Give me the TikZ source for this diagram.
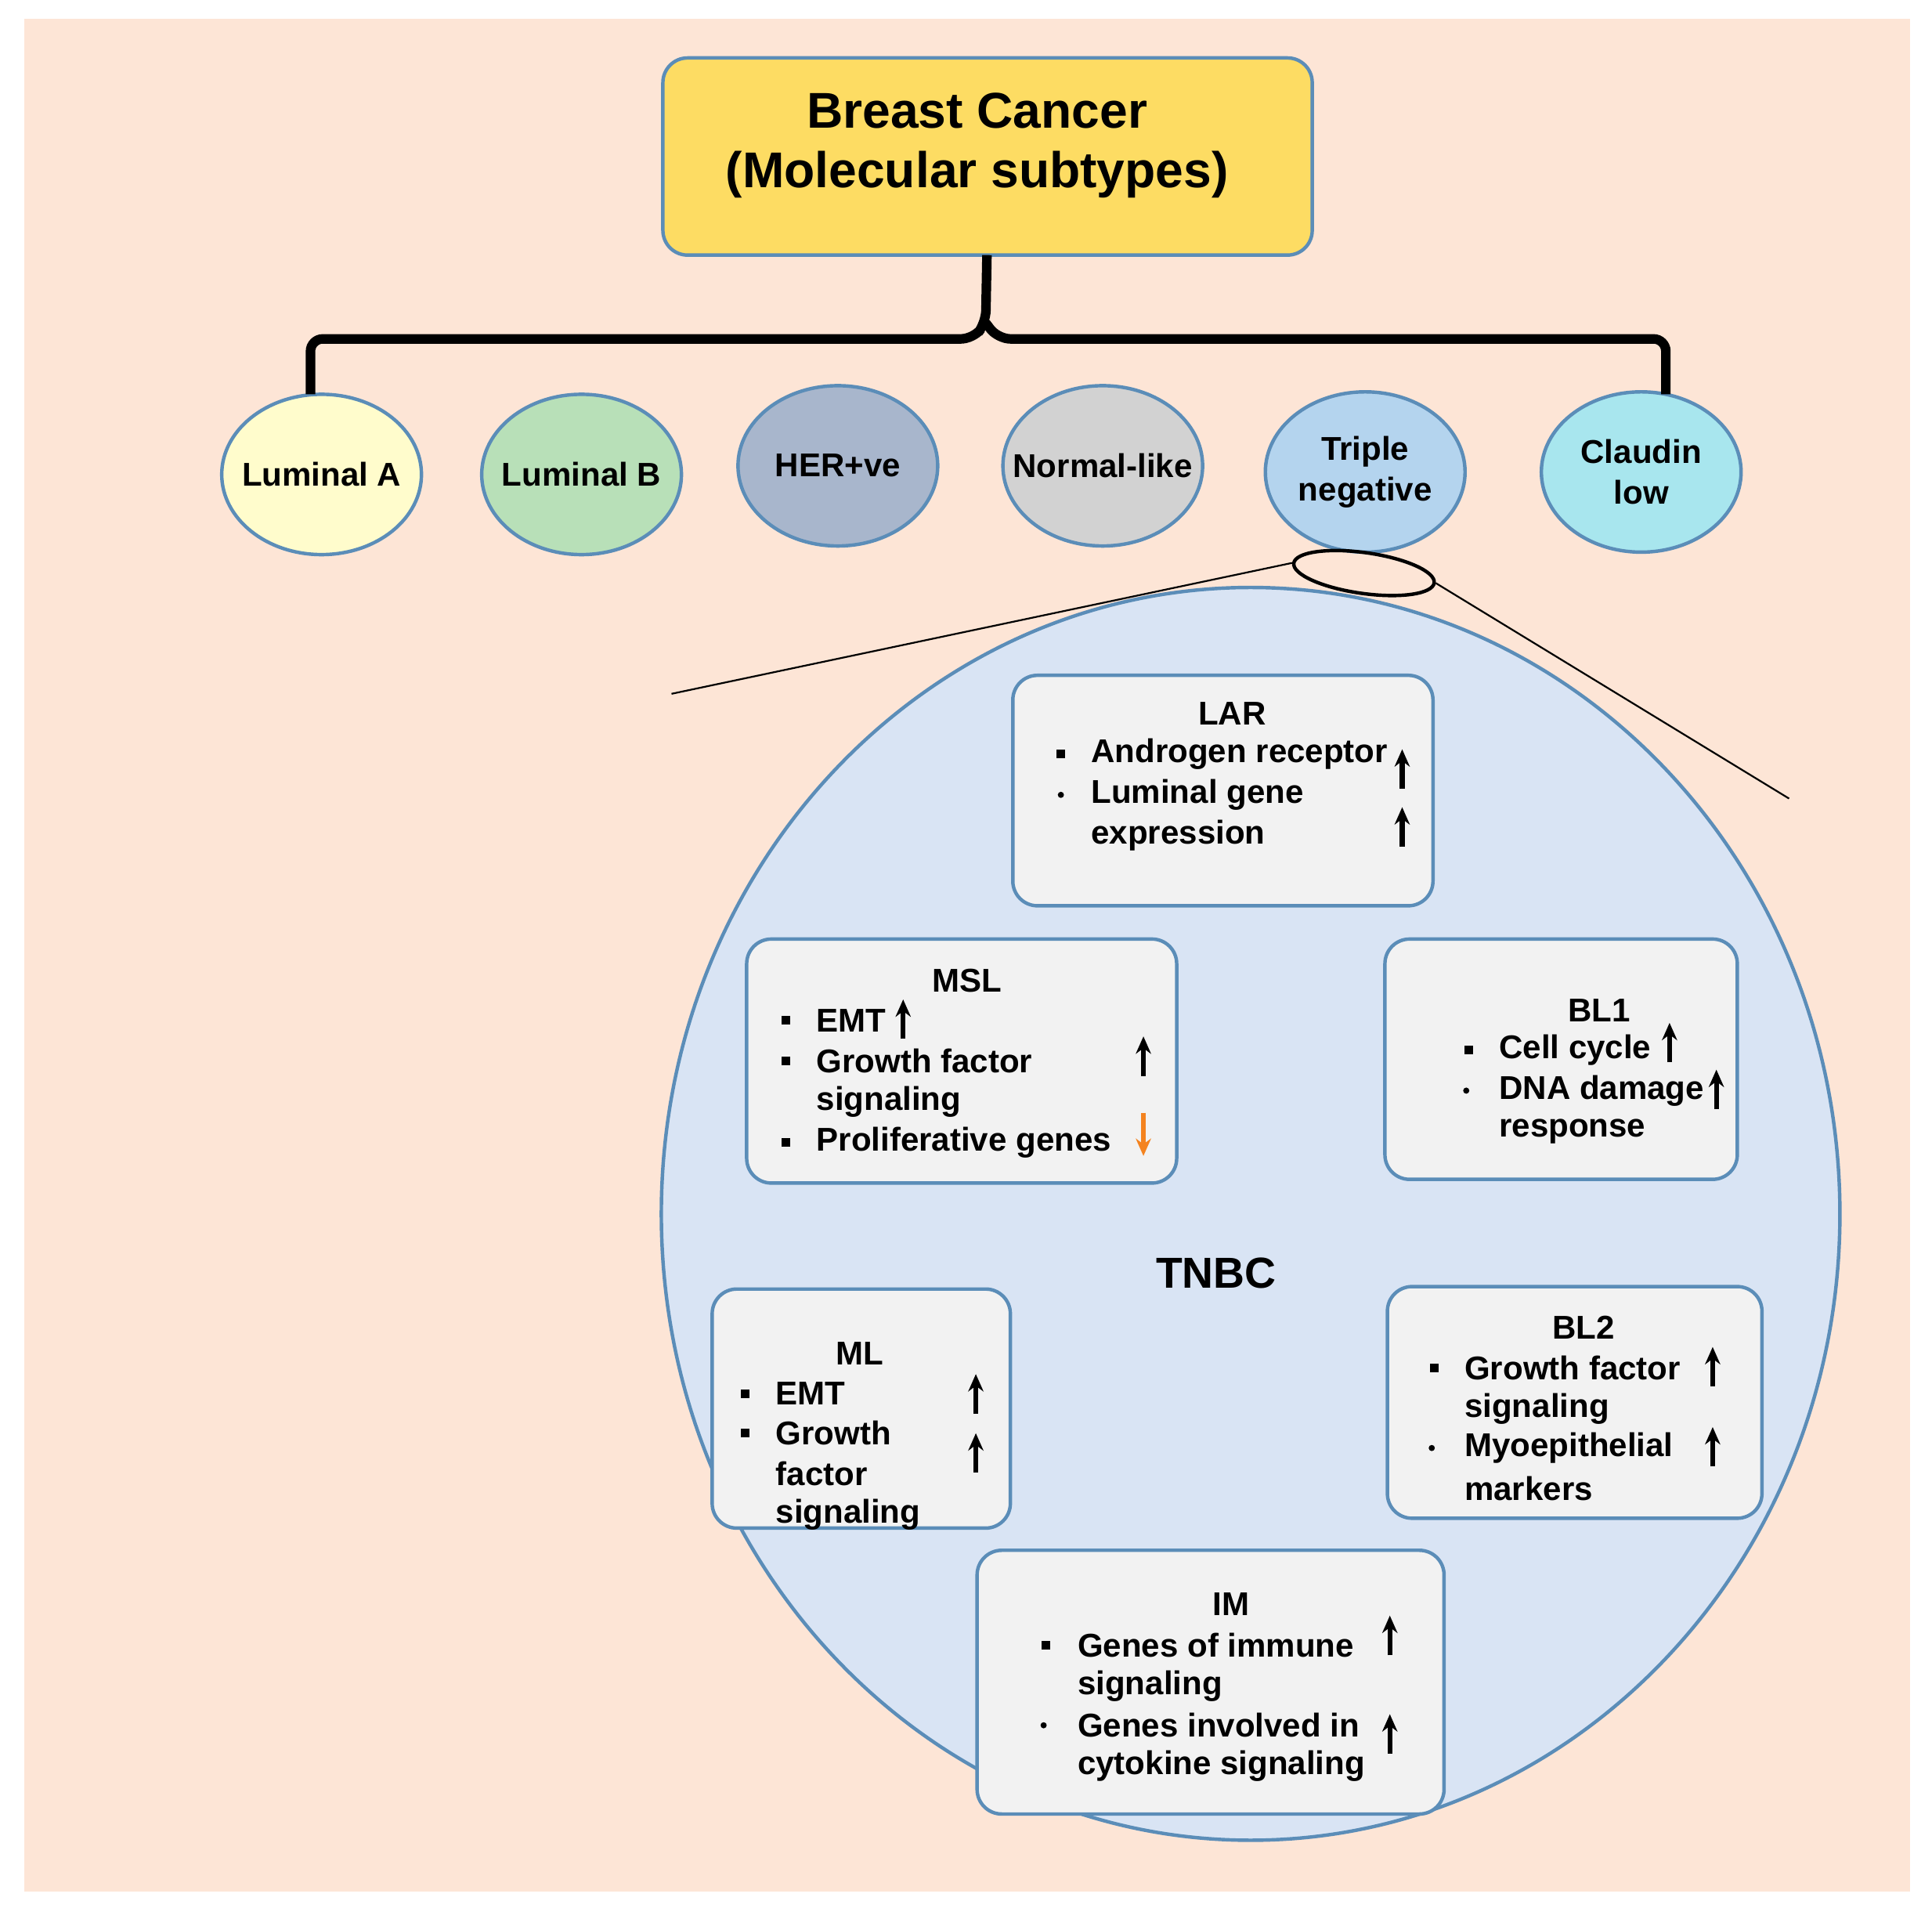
\documentclass[tikz,border=0pt]{standalone}
\usepackage{fontspec}
\setmainfont{Liberation Sans}
\usepackage{tikz}
\usetikzlibrary{arrows.meta,shapes.geometric}
\definecolor{peach}{HTML}{FDE5D6}
\definecolor{edgeblue}{HTML}{5B8DB8}
\definecolor{circfill}{HTML}{D9E4F4}
\definecolor{boxfill}{HTML}{F2F2F2}
\definecolor{arrorange}{HTML}{F4831F}
\tikzset{>={Stealth[length=4pt,width=3.5pt]}}
\tikzset{subtype/.style = {shape=ellipse,draw=edgeblue,thick,minimum width=1.62cm,minimum height=1.3cm,inner xsep=-0.2cm,inner ysep=0pt,align=center,font=\bfseries\fontsize{7.6}{9.4}\selectfont}}
\tikzset{group/.style = {draw=edgeblue,thick,fill=boxfill,rounded corners=0.2cm}}
\tikzset{title/.style = {font=\bfseries\fontsize{7.6}{9.4}\selectfont,inner sep=0pt}}
\tikzset{item/.style = {anchor=west,font=\bfseries\fontsize{7.6}{9.4}\selectfont,inner sep=0pt}}
\newcommand{\sqb}[2]{\fill (#1-3.5,#2-3.5) rectangle (#1+3.5,#2+3.5);}
\newcommand{\dtb}[2]{\fill (#1,#2) circle (2.5);}
\newcommand{\upa}[2]{\draw[->,line width=1.1pt] (#1,#2+15) -- (#1,#2-17);}

\begin{document}
\begin{tikzpicture}[x=0.01cm,y=-0.01cm]
            \useasboundingbox (0,0) rectangle (1568,1557);
            \fill[peach] (20,15) rectangle (1550,1535);

            % Top box
            \draw[draw=edgeblue,thick,fill=yellow!60!orange!60,rounded corners=0.2cm] (538,47) rectangle (1065,207);
            \node[align=center,font=\bfseries\fontsize{11.6}{13.7}\selectfont] (bc) at (793,118) {Breast Cancer\\(Molecular subtypes)};
            \coordinate (bcs) at (801,207);

            % Subtypes
            \node[subtype,fill=yellow!20] (la) at (261,385) {Luminal A};
            \node[subtype,fill=green!40!gray!40!white] (lb) at (472,385) {Luminal B};
            \node[subtype,fill={rgb,255:red,168;green,182;blue,204}] (her) at (680,378) {HER+ve};
            \node[subtype,fill=gray!35] (nl) at (895,378) {Normal-like};
            \node[subtype,fill={rgb,255:red,180;green,212;blue,238}] (tn) at (1108,383) {Triple\\negative};
            \node[subtype,fill={rgb,255:red,168;green,230;blue,238}] (cl) at (1332,383) {Claudin\\low};

            % Bracket
            \draw[line width=2.2pt,rounded corners=0.1cm] (252,320) -- (252,275) -- (790,275) -- (800,262) -- (bcs);
            \draw[line width=2.2pt,rounded corners=0.1cm] (1352,320) -- (1352,275) -- (810,275) -- (800,262);

            % Zoom
            \node[draw,thick,shape=ellipse,minimum width=1.15cm,minimum height=0.3cm,rotate=-8] (zm) at (1107,465) {};
            \coordinate (zl) at (545,563);
            \coordinate (zr) at (1452,648);
            \draw (zm.west) -- (zl);
            \draw (zm.east) -- (zr);

            % TNBC circle
            \node[draw=edgeblue,thick,fill=circfill,shape=ellipse,minimum width=9.56cm,minimum height=10.16cm] (tnbc) at (1015,985) {};
            \node[font=\bfseries\fontsize{10}{11}\selectfont] (tl) at (987,1033) {TNBC};

            % LAR
            \draw[group] (822,548) rectangle (1163,735);
            \node[title] at (1000,579) {LAR};
            \sqb{861}{612} \node[item] at (885,612) {Androgen receptor};
            \dtb{861}{645} \node[item] at (885,645) {Luminal gene};
            \node[item] at (885,678) {expression};
            \upa{1138}{625} \upa{1138}{672}

            % MSL
            \draw[group] (606,762) rectangle (955,960);
            \node[title] at (785,796) {MSL};
            \sqb{638}{828} \node[item] at (662,828) {EMT};
            \sqb{638}{861} \node[item] at (662,861) {Growth factor};
            \node[item] at (662,894) {signaling};
            \sqb{638}{927} \node[item] at (662,927) {Proliferative genes};
            \upa{733}{828} \upa{928}{858}
            \draw[->,line width=1.1pt,arrorange] (928,903) -- (928,938);

            % BL1
            \draw[group] (1124,762) rectangle (1410,957);
            \node[title] at (1298,820) {BL1};
            \sqb{1192}{852} \node[item] at (1216,852) {Cell cycle};
            \dtb{1190}{885} \node[item] at (1216,885) {DNA damage};
            \node[item] at (1216,918) {response};
            \upa{1355}{847} \upa{1393}{885}

            % ML
            \draw[group] (578,1046) rectangle (820,1240);
            \node[title] at (698,1098) {ML};
            \sqb{605}{1131} \node[item] at (629,1131) {EMT};
            \sqb{605}{1163} \node[item] at (629,1163) {Growth};
            \node[item] at (629,1196) {factor};
            \node[item] at (629,1229) {signaling};
            \upa{792}{1132} \upa{792}{1180}

            % BL2
            \draw[group] (1126,1044) rectangle (1430,1232);
            \node[title] at (1285,1077) {BL2};
            \sqb{1164}{1110} \node[item] at (1188,1110) {Growth factor};
            \node[item] at (1188,1143) {signaling};
            \dtb{1162}{1175} \node[item] at (1188,1175) {Myoepithelial};
            \node[item] at (1188,1208) {markers};
            \upa{1390}{1110} \upa{1390}{1175}

            % IM
            \draw[group] (793,1258) rectangle (1172,1472);
            \node[title] at (999,1302) {IM};
            \sqb{849}{1335} \node[item] at (874,1335) {Genes of immune};
            \node[item] at (874,1368) {signaling};
            \dtb{847}{1400} \node[item] at (874,1400) {Genes involved in};
            \node[item] at (874,1433) {cytokine signaling};
            \upa{1128}{1328} \upa{1128}{1408}
        \end{tikzpicture}
\end{document}
